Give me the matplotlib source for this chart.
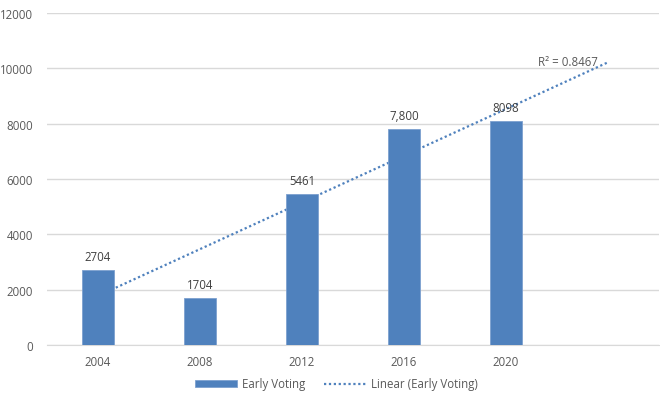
import numpy as np
import matplotlib.pyplot as plt

plt.rcParams['font.family'] = ['Open Sans', 'DejaVu Sans']

years = ['2004', '2008', '2012', '2016', '2020']
early_voting = [2704, 1704, 5461, 7800, 8098]
value_labels = ['2704', '1704', '5461', '7,800', '8098']
r2_label = 'R² = 0.8467'

bar_color = '#4F81BD'
text_color = '#595959'

fig = plt.figure(figsize=(6.6, 4.06), dpi=100)
ax = fig.add_axes([0.0712, 0.1478, 0.9273, 0.8177])

x = np.arange(len(years))
bars = ax.bar(x, early_voting, width=0.31, color=bar_color, edgecolor='#7DA0CF',
              linewidth=0.6, zorder=3, label='Early Voting')

# linear trendline, forecast forward one period
k, b = np.polyfit(x, early_voting, 1)
xt = np.array([0, len(years)])
trend, = ax.plot(xt, k * xt + b, linestyle=(0, (1, 1.2)), color=bar_color, lw=1.6,
                 zorder=2, label='Linear (Early Voting)')
ax.text(xt[-1] - 0.1, k * xt[-1] + b + 20, r2_label, ha='right', va='center',
        fontsize=8.3, color=text_color, zorder=4)

for xi, v, s in zip(x, early_voting, value_labels):
    ax.text(xi, v + 250, s, ha='center', va='bottom', fontsize=8.3,
            color='#404040', zorder=4)

ax.set_xlim(-0.5, len(years) + 0.5)
ax.set_ylim(0, 12000)
ax.set_yticks(range(0, 12001, 2000))
ax.set_xticks(x)
ax.set_xticklabels(years)
ax.tick_params(length=0, labelsize=8.3, colors=text_color)
ax.tick_params(axis='x', pad=7)
ax.tick_params(axis='y', pad=10)
ax.grid(axis='y', color='#D9D9D9', lw=1, zorder=0)
for s in ['top', 'right', 'left']:
    ax.spines[s].set_visible(False)
ax.spines['bottom'].set_color('#D9D9D9')

leg = fig.legend(handles=[bars, trend], loc='center', bbox_to_anchor=(0.51, 0.052),
                 ncol=2, frameon=False, fontsize=8.3, handlelength=3.6,
                 handleheight=0.6, columnspacing=1.6, handletextpad=0.5)
for t in leg.get_texts():
    t.set_color(text_color)

fig.savefig('out.png', dpi=100)
